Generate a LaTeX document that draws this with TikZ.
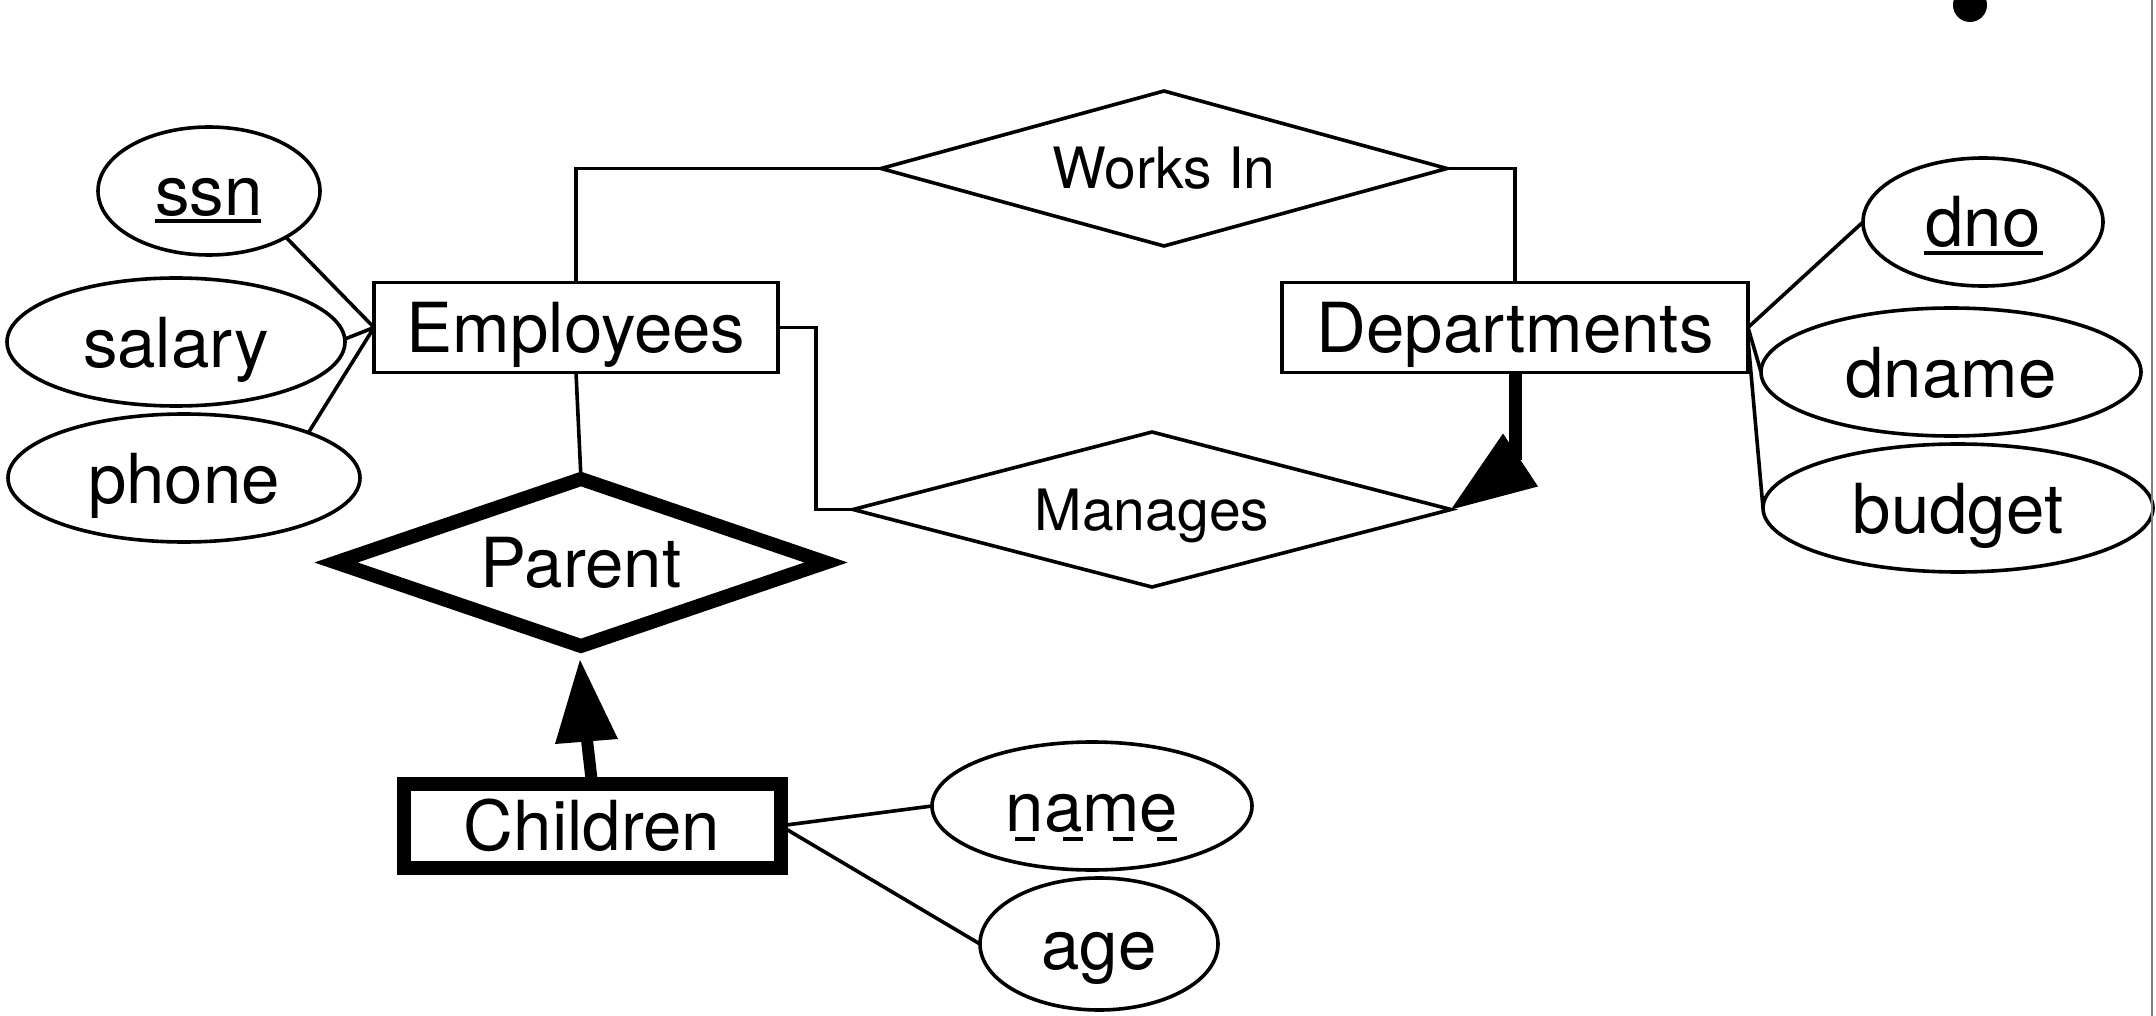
\documentclass[tikz,border=0pt]{standalone}
\usepackage{fontspec}
\setmainfont{TeX Gyre Heros}
\usetikzlibrary{shapes.geometric,calc}
\newcommand\erbig{\fontsize{69}{80}\selectfont}
\newcommand\ersmall{\fontsize{57}{66}\selectfont}
\begin{document}
\begin{tikzpicture}[x=1pt,y=-1pt,
  thinline/.style={line width=3.6pt},
  thickline/.style={line width=14pt},
  ent/.style={draw,thinline,rectangle,inner sep=0pt,outer sep=0pt,font=\erbig,text height=50pt,text depth=0pt},
  attr/.style={draw,thinline,ellipse,inner sep=0pt,outer sep=0pt,font=\erbig,text height=50pt,text depth=0pt},
  rel/.style={draw,thinline,diamond,inner sep=0pt,outer sep=0pt,font=\ersmall,text height=41pt,text depth=0pt,aspect=3.6},
  conn/.style={thinline}]
\useasboundingbox (0,0) rectangle (2156,1016);
\fill[white] (0,0) rectangle (2156,1016);
% entities
\node[ent,minimum width=404pt,minimum height=90pt] (emp) at (576,327.5) {Employees};
\node[ent,minimum width=466pt,minimum height=90pt] (dept) at (1515,327.5) {Departments};
\node[ent,thickline,minimum width=377pt,minimum height=84.5pt] (children) at (592,825.75) {Children};
% relationships
\node[rel,minimum width=566pt,minimum height=155pt] (works) at (1164,168.5) {Works In};
\node[rel,minimum width=598pt,minimum height=155pt] (manages) at (1152,509.5) {Manages};
\node[rel,thickline,font=\erbig,text height=50pt,aspect=2.9,minimum width=490pt,minimum height=167pt] (parent) at (581,562.5) {Parent};
% attributes
\node[attr,minimum width=222pt,minimum height=128pt] (ssn) at (209,191) {ssn};
\node[attr,minimum width=338pt,minimum height=128pt] (salary) at (176,342) {salary};
\node[attr,minimum width=352pt,minimum height=128pt] (phone) at (184,478) {phone};
\node[attr,minimum width=240pt,minimum height=128pt] (dno) at (1983,222) {dno};
\node[attr,minimum width=380pt,minimum height=128pt] (dname) at (1951,372) {dname};
\node[attr,minimum width=390pt,minimum height=128pt] (budget) at (1958,508) {budget};
\node[attr,minimum width=320pt,minimum height=128pt] (name) at (1092,806) {name};
\node[attr,minimum width=238pt,minimum height=132pt] (age) at (1099,944) {age};
% underlines
\draw[line width=4pt] ($(ssn.center)+(-54,30)$) -- ($(ssn.center)+(52,30)$);
\draw[line width=4pt] ($(dno.center)+(-59,31)$) -- ($(dno.center)+(60,31)$);
\foreach \a/\b in {-77/-57,-29/-9,21/41,65/85}
  \draw[line width=4pt] ($(name.center)+(\a,33)$) -- ($(name.center)+(\b,33)$);
% connectors
\draw[conn] (ssn.-31) -- (emp.west);
\draw[conn] (salary.1) -- (emp.west);
\draw[conn] (phone.20) -- (emp.west);
\draw[conn] (emp.north) |- (works.west);
\draw[conn] (works.east) -| (dept.north);
\draw[conn] (emp.east) -- ++(38,0) |- (manages.west);
\draw[conn] (emp.south) -- (parent.north);
\draw[conn] (dept.east) -- (dno.west);
\draw[conn] (dept.east) -- (dname.west);
\draw[conn] ([yshift=-12pt]dept.east) -- (budget.west);
\draw[conn] (children.east) -- (name.west);
\draw[conn] (children.east) -- (age.west);
% key constraint arrow Departments -> Manages
\draw[line width=13pt,line cap=butt] (dept.south) -- ++(0,87);
\fill (manages.east) -- ++(52,-76) -- ++(35,53) -- cycle;
% weak entity arrow Children -> Parent
\coordinate (ctip) at (580,660);
\draw[line width=12pt] (children.north) -- (587,740);
\fill (ctip) -- (555,744) -- (618,739) -- cycle;
% stray dot and right edge line
\fill (1970,5) circle[radius=17pt];
\draw[line width=2pt,black!50] (2152,0) -- (2152,1016);
\end{tikzpicture}
\end{document}
